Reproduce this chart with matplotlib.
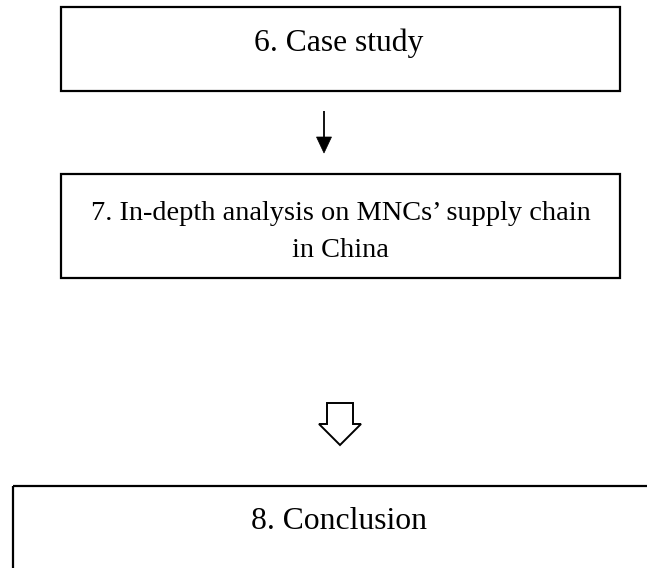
import matplotlib
matplotlib.use("Agg")
import matplotlib.pyplot as plt
from matplotlib.patches import Rectangle, Polygon

# Flowchart content
box1_label = "6. Case study"
box2_lines = ["7. In-depth analysis on MNCs\u2019 supply chain", "in China"]
box3_label = "8. Conclusion"

W, H = 647, 568
fig = plt.figure(figsize=(W / 100, H / 100), dpi=100)
ax = fig.add_axes([0, 0, 1, 1])
ax.set_xlim(0, W)
ax.set_ylim(H, 0)
ax.axis("off")

fam = ["Liberation Serif", "DejaVu Serif"]
lw = 1.6

# Box 1
ax.add_patch(Rectangle((61, 7), 559, 84, fill=False, lw=lw, ec="black"))
ax.text(339, 51, box1_label, ha="center", va="baseline", family=fam,
        fontsize=22.8, color="black")

# Arrow 1 (thin line with filled head)
ax.plot([324, 324], [111, 138], color="black", lw=1.3, solid_capstyle="butt")
ax.add_patch(Polygon([(316.5, 137), (331.5, 137), (324, 153)], closed=True,
                     fc="black", ec="black", lw=0.5))

# Box 2
ax.add_patch(Rectangle((61, 174), 559, 104, fill=False, lw=lw, ec="black"))
ax.text(341, 220, box2_lines[0], ha="center", va="baseline", family=fam,
        fontsize=20.4, color="black")
ax.text(340, 257, box2_lines[1], ha="center", va="baseline", family=fam,
        fontsize=20.4, color="black")

# Hollow block arrow
cx = 340
sw, hw = 13, 21
ax.add_patch(Polygon([(cx - sw, 403), (cx + sw, 403), (cx + sw, 424),
                      (cx + hw, 424), (cx, 445), (cx - hw, 424), (cx - sw, 424)],
                     closed=True, fill=False, ec="black", lw=1.4, joinstyle="miter"))

# Box 3 (extends past the right and bottom edges)
ax.add_patch(Rectangle((12.5, 486), 700, 200, fill=False, lw=lw, ec="black"))
ax.text(339, 529, box3_label, ha="center", va="baseline", family=fam,
        fontsize=22.8, color="black")

fig.savefig("out.png", dpi=100)
